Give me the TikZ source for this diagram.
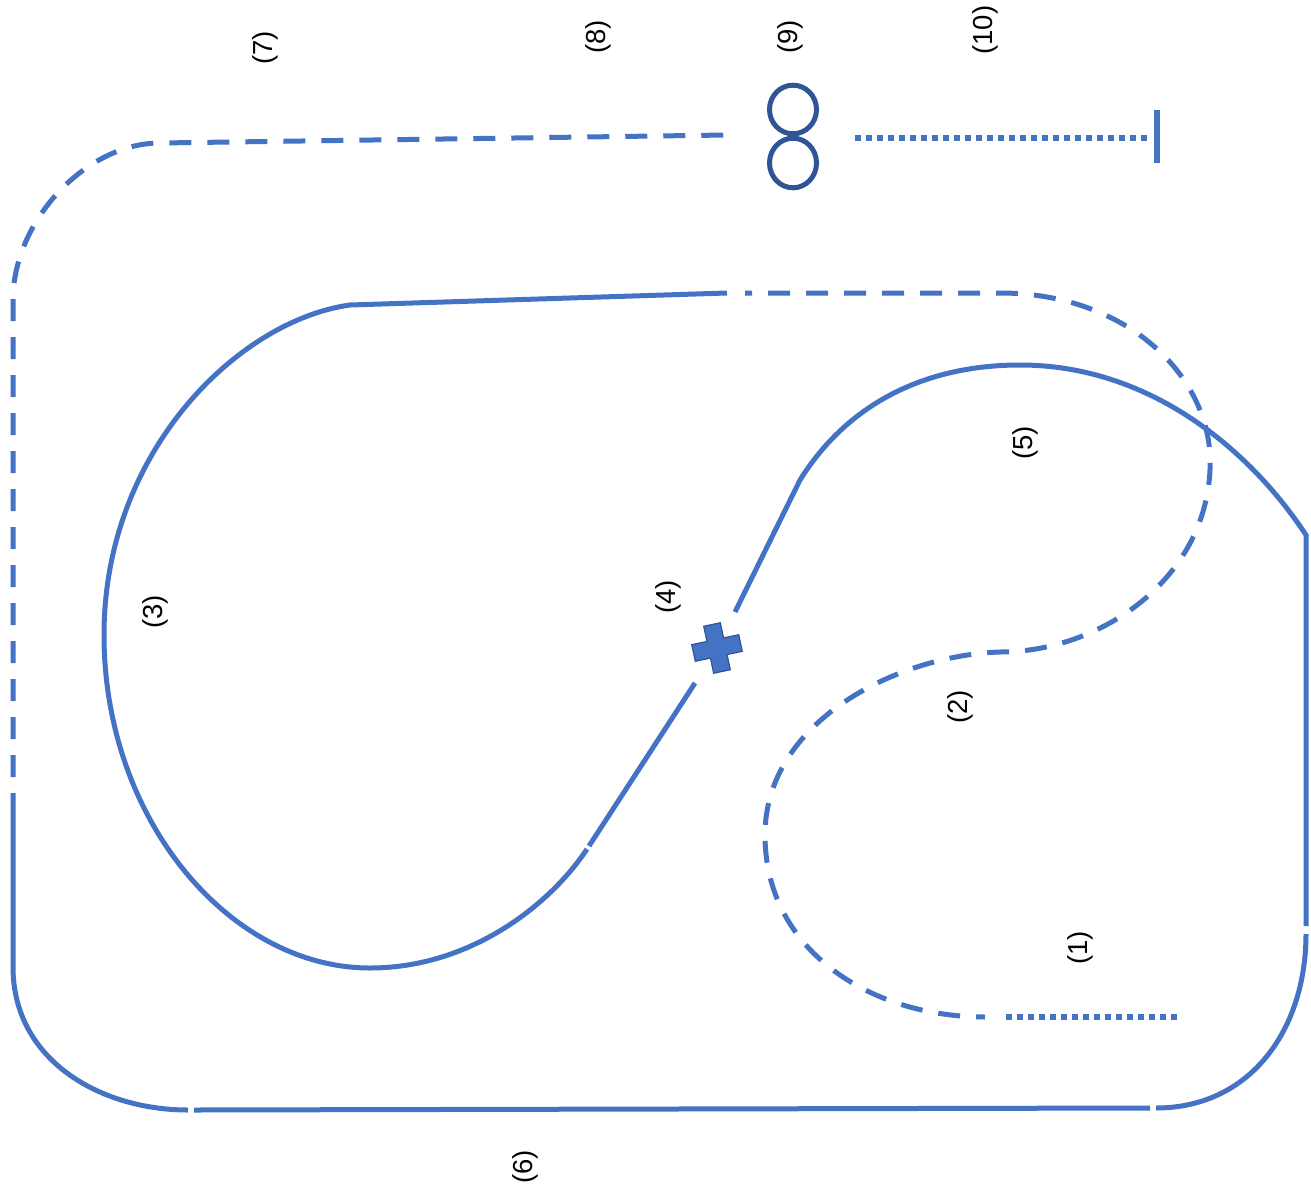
\documentclass[tikz,border=0pt]{standalone}
\usepackage{fontspec}
\setmainfont{Liberation Sans}
\definecolor{mainblue}{HTML}{4472C4}
\definecolor{darkblue}{HTML}{2F5597}
\begin{document}
\begin{tikzpicture}[x=1pt,y=-1pt,
  ln/.style={draw=mainblue,line width=5pt},
  dsh/.style={ln,dash pattern=on 22pt off 16pt},
  dotln/.style={ln,line width=5.5pt,dash pattern=on 5.5pt off 5.5pt},
  lbl/.style={font=\fontsize{27.5}{32}\selectfont,rotate=90,inner sep=0pt}]
\useasboundingbox (0,0) rectangle (1311,1196);
% key points
\coordinate (oL) at (13,793);
\coordinate (oLb) at (13,967);
\coordinate (oLt) at (13,300);
\coordinate (oT) at (160,143);
\coordinate (oTe) at (727,135);
\coordinate (bA) at (188,1110);
\coordinate (bB) at (194,1110);
\coordinate (bC) at (1150,1108);
\coordinate (bD) at (1156,1108);
\coordinate (rA) at (1306,934);
\coordinate (rB) at (1306,926);
\coordinate (rC) at (1306,535);
\coordinate (top5) at (1020,365);
\coordinate (s1) at (800,480);
\coordinate (s2) at (735,612);
\coordinate (s3) at (695,683);
\coordinate (s4) at (589,846);
\coordinate (s5) at (587,849);
\coordinate (bot3) at (370,968);
\coordinate (left3) at (104,635);
\coordinate (top3) at (350,305);
\coordinate (t3e) at (727,293);
\coordinate (d0) at (745,293);
\coordinate (d1) at (1000,293);
\coordinate (d2) at (1210,470);
\coordinate (d3) at (1000,652);
\coordinate (d4) at (765,835);
\coordinate (d5) at (985,1017);
\coordinate (p1) at (1006,1017);
\coordinate (p2) at (1180,1017);
\coordinate (q1) at (855,138);
\coordinate (q2) at (1150,138);
\coordinate (barT) at (1157,110);
\coordinate (barB) at (1157,163);
% outer dashed part (7)/(8)
\draw[dsh,dash phase=22pt] (oL) -- (oLt) .. controls (13,221) and (86,143) .. (oT) -- (oTe);
% outer solid part (6)
\draw[ln] (oL) -- (oLb) .. controls (13,1060) and (100,1110) .. (bA);
\draw[ln] (bB) -- (bC);
\draw[ln] (bD) .. controls (1250,1108) and (1306,1030) .. (rA);
\draw[ln] (rB) -- (rC) .. controls (1250,450) and (1150,365) .. (top5)
  .. controls (930,365) and (850,400) .. (s1) -- (s2);
% inner loop (3)
\draw[ln] (s3) -- (s4);
\draw[ln] (s5) .. controls (550,905) and (470,968) .. (bot3)
  .. controls (230,968) and (104,820) .. (left3)
  .. controls (104,450) and (240,320) .. (top3) -- (t3e);
% dashed S curve (2)
\draw[dsh,dash phase=15pt] (d0) -- (d1) .. controls (1130,293) and (1215,380) .. (d2)
  .. controls (1205,580) and (1100,652) .. (d3)
  .. controls (900,655) and (765,720) .. (d4)
  .. controls (765,950) and (870,1017) .. (d5);
% dotted ends
\draw[dotln] (p1) -- (p2);
\draw[dotln] (q1) -- (q2);
\draw[ln,line width=5.5pt] (barT) -- (barB);
% figure eight (9)
\draw[darkblue,line width=5pt] (793,109.5) ellipse [x radius=23.5pt, y radius=24.3pt];
\draw[darkblue,line width=5pt] (793,163) ellipse [x radius=23.5pt, y radius=24.8pt];
% cross (4)
\begin{scope}[shift={(717,648)},rotate=12]
\filldraw[fill=mainblue,draw=darkblue,line width=1.2pt]
  (-24,-8.5) -- (-8.5,-8.5) -- (-8.5,-24) -- (8.5,-24) -- (8.5,-8.5) -- (24,-8.5)
  -- (24,8.5) -- (8.5,8.5) -- (8.5,24) -- (-8.5,24) -- (-8.5,8.5) -- (-24,8.5) -- cycle;
\end{scope}
% labels
\node[lbl] (l1) at (1080,948) {(1)};
\node[lbl] (l2) at (960,707) {(2)};
\node[lbl] (l3) at (155,612) {(3)};
\node[lbl] (l4) at (668,597) {(4)};
\node[lbl] (l5) at (1025,443) {(5)};
\node[lbl] (l6) at (525,1167) {(6)};
\node[lbl] (l7) at (265,48) {(7)};
\node[lbl] (l8) at (598,37) {(8)};
\node[lbl] (l9) at (790,37) {(9)};
\node[lbl] (l10) at (985,30) {(10)};
\end{tikzpicture}
\end{document}
